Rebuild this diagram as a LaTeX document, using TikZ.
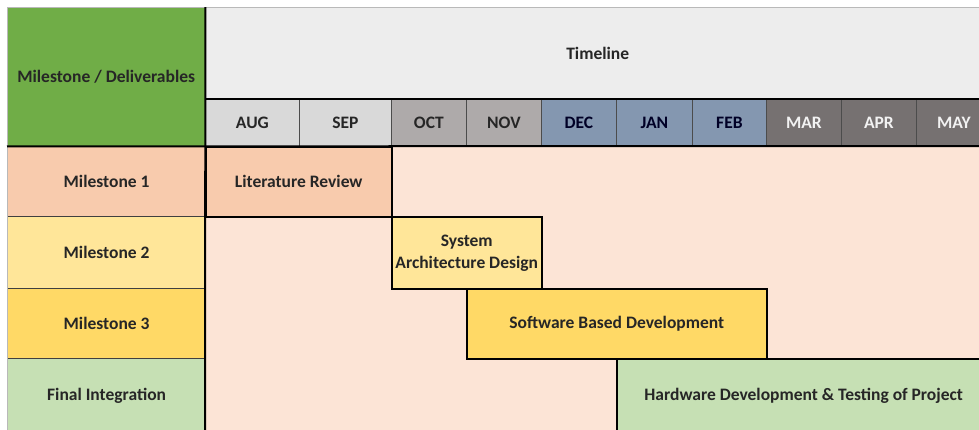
\documentclass[tikz,border=0pt]{standalone}
\usepackage{fontspec}
\setmainfont{Carlito}
\definecolor{hdrgreen}{HTML}{70AD47}
\definecolor{tlgray}{HTML}{EDEDED}
\definecolor{mlight}{HTML}{D9D9D9}
\definecolor{mmid}{HTML}{AEAAAA}
\definecolor{mblue}{HTML}{8497B0}
\definecolor{mdark}{HTML}{767171}
\definecolor{peachA}{HTML}{F8CBAD}
\definecolor{peachBg}{HTML}{FCE4D6}
\definecolor{yelA}{HTML}{FFE699}
\definecolor{yelB}{HTML}{FFD966}
\definecolor{grnA}{HTML}{C6E0B4}
\definecolor{txtdark}{HTML}{262626}
\begin{document}
\begin{tikzpicture}[x=1pt,y=-1pt,
  cell/.style={anchor=north west, inner sep=0pt, align=center,
    font=\bfseries\fontsize{17.5}{22}\selectfont, text=txtdark},
  month/.style={cell, draw=black!70, line width=0.8pt, minimum height=47pt},
  label/.style={cell, draw=black!75, line width=1.2pt, minimum width=198pt},
  task/.style={cell, draw=black, line width=1.5pt},
  major/.style={black, line width=2pt}]
\useasboundingbox (0,0) rectangle (979,429);
\fill[white] (0,0) rectangle (979,429);
% timeline body
\fill[peachBg] (205,146) rectangle (990,435);

% header
\node[cell, fill=hdrgreen, minimum width=198pt, minimum height=139pt] (hdr) at (7,7) {Milestone / Deliverables};
\node[cell, fill=tlgray, minimum width=785pt, minimum height=92pt] (tl) at (205,7) {Timeline};

% months
\node[month, fill=mlight, minimum width=94pt] (aug) at (205,99) {\raisebox{-2pt}{AUG}};
\node[month, fill=mlight, minimum width=92pt] (sep) at (299,99) {\raisebox{-2pt}{SEP}};
\node[month, fill=mmid, minimum width=75pt] (oct) at (391,99) {\raisebox{-2pt}{OCT}};
\node[month, fill=mmid, minimum width=75pt] (nov) at (466,99) {\raisebox{-2pt}{NOV}};
\node[month, fill=mblue, minimum width=75pt, text=black!85!blue] (dec) at (541,99) {\raisebox{-2pt}{DEC}};
\node[month, fill=mblue, minimum width=76pt, text=black!85!blue] (jan) at (616,99) {\raisebox{-2pt}{JAN}};
\node[month, fill=mblue, minimum width=74pt, text=black!85!blue] (feb) at (692,99) {\raisebox{-2pt}{FEB}};
\node[month, fill=mdark, minimum width=75pt, text=white!95!black] (mar) at (766,99) {\raisebox{-2pt}{MAR}};
\node[month, fill=mdark, minimum width=75pt, text=white!95!black] (apr) at (841,99) {\raisebox{-2pt}{APR}};
\node[month, fill=mdark, minimum width=75pt, text=white!95!black] (may) at (916,99) {\raisebox{-2pt}{MAY}};

% milestone labels
\node[label, fill=peachA, minimum height=70pt] (m1) at (7,146) {Milestone 1};
\node[label, fill=yelA, minimum height=72pt] (m2) at (7,216) {Milestone 2};
\node[label, fill=yelB, minimum height=70pt] (m3) at (7,288) {Milestone 3};
\node[label, fill=grnA, minimum height=74pt] (fin) at (7,358) {\raisebox{2pt}{Final Integration}};

% tasks
\node[task, fill=peachA, minimum width=186pt, minimum height=70pt] (lit) at (205,146) {Literature Review};
\node[task, fill=yelA, minimum width=150pt, minimum height=72pt] (sad) at (391,216) {System\\Architecture Design};
\node[task, fill=yelB, minimum width=300pt, minimum height=70pt] (sbd) at (466,288) {Software Based Development};
\node[task, fill=grnA, minimum width=374pt, minimum height=74pt] (hw) at (616,358) {\raisebox{2pt}{Hardware Development \& Testing of Project}};

% frame lines
\draw[gray!55, line width=0.7pt] (7,435) |- (990,7);
\draw[major] (tl.south west) -- (tl.south east);
\draw[major] (hdr.south west) -- (990,146);
\draw[major] (hdr.north east) -- (205,435);
\end{tikzpicture}
\end{document}
